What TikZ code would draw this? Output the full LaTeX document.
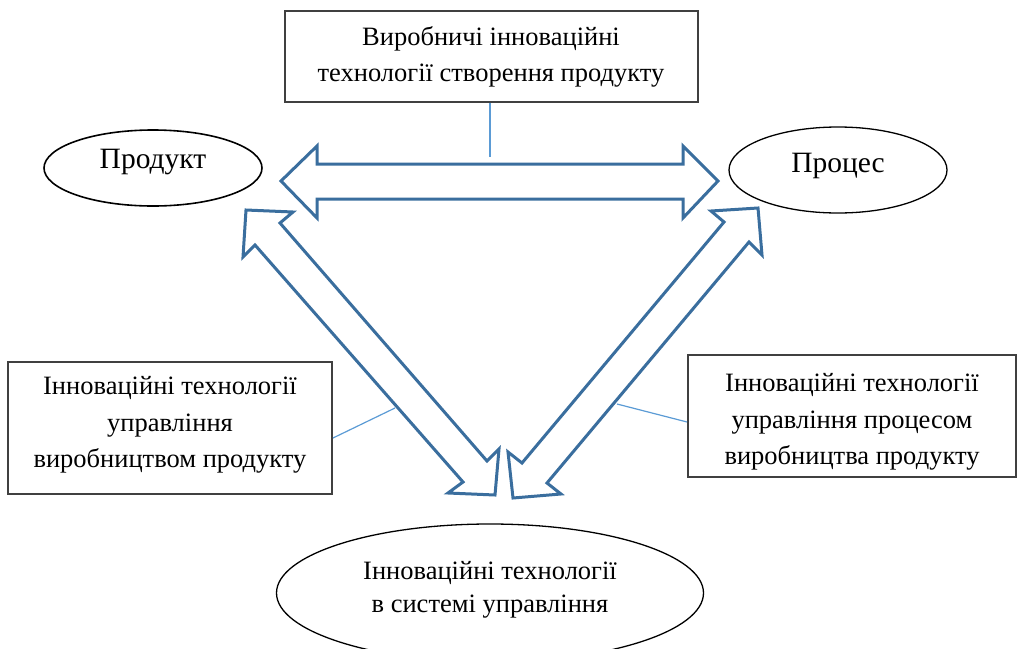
\documentclass[tikz,border=0pt]{standalone}
\usepackage{fontspec}
\setmainfont{Liberation Serif}
\usetikzlibrary{shapes.geometric}
\definecolor{arrowblue}{RGB}{58,110,158}
\definecolor{linkblue}{RGB}{91,155,213}
\definecolor{boxgrey}{RGB}{64,64,64}
\begin{document}
\begin{tikzpicture}[x=1pt,y=-1pt,
  txt/.style={font=\fontsize{26.5}{36.5}\selectfont, align=center, inner sep=0pt},
  bigtxt/.style={font=\fontsize{29.5}{36}\selectfont, inner sep=0pt, anchor=base},
  box/.style={draw=boxgrey, line width=1.4pt, inner sep=0pt},
  oval/.style={ellipse, draw=black, line width=1.6pt, inner sep=0pt},
  blockarrow/.style={draw=arrowblue, line width=3pt, line join=miter, fill=white},
  link/.style={draw=linkblue, line width=1.2pt}]
\useasboundingbox (0,0) rectangle (1027,648);
\clip (0,0) rectangle (1027,648);

% boxes
\node[box, minimum width=413pt, minimum height=91pt] (top) at (491.5,56.5) {};
\node[txt] (topt) at (491,57) {Виробничі інноваційні\\технології створення продукту};
\node[box, minimum width=324pt, minimum height=132pt] (lbox) at (170,428) {};
\node[txt] (lboxt) at (170,425) {Інноваційні технології\\управління\\виробництвом продукту};
\node[box, minimum width=328pt, minimum height=122pt] (rbox) at (852,416) {};
\node[txt] (rboxt) at (852,422) {Інноваційні технології\\управління процесом\\виробництва продукту};

% ellipses
\node[oval, minimum width=218pt, minimum height=76pt] (prod) at (153,168) {};
\node[bigtxt] (prodt) at (153,168) {Продукт};
\node[oval, line width=1.3pt, minimum width=218pt, minimum height=86pt] (proc) at (838,170) {};
\node[bigtxt] (proct) at (838,172) {Процес};
\node[oval, line width=1.3pt, minimum width=427pt, minimum height=138pt] (sys) at (490,593) {};
\node[txt, font=\fontsize{26.5}{33}\selectfont] (syst) at (490,590) {Інноваційні технології\\в системі управління};

% block arrows
\draw[blockarrow] (281,181) -- (317,146) -- (317,164) -- (683,164) -- (683,146)
  -- (718,181) -- (683,218) -- (683,199) -- (317,199) -- (317,218) -- cycle;
\draw[blockarrow] (246,210) -- (293,212) -- (280,223) -- (487,461) -- (499,449)
  -- (495,495) -- (448,493) -- (463,482) -- (255,245) -- (243,257) -- cycle;
\draw[blockarrow] (758,208) -- (762,255) -- (749,242) -- (547,483) -- (561,494)
  -- (513,498) -- (508,452) -- (522,463) -- (724,222) -- (711,211) -- cycle;

% connectors
\coordinate (topend) at (490,157);
\coordinate (lstart) at (333,438);
\coordinate (lend) at (395,408);
\coordinate (rstart) at (687,422);
\coordinate (rend) at (617,404);
\draw[link] (top.south -| topend) -- (topend);
\draw[link] (lstart) -- (lend);
\draw[link] (rstart) -- (rend);
\end{tikzpicture}
\end{document}
